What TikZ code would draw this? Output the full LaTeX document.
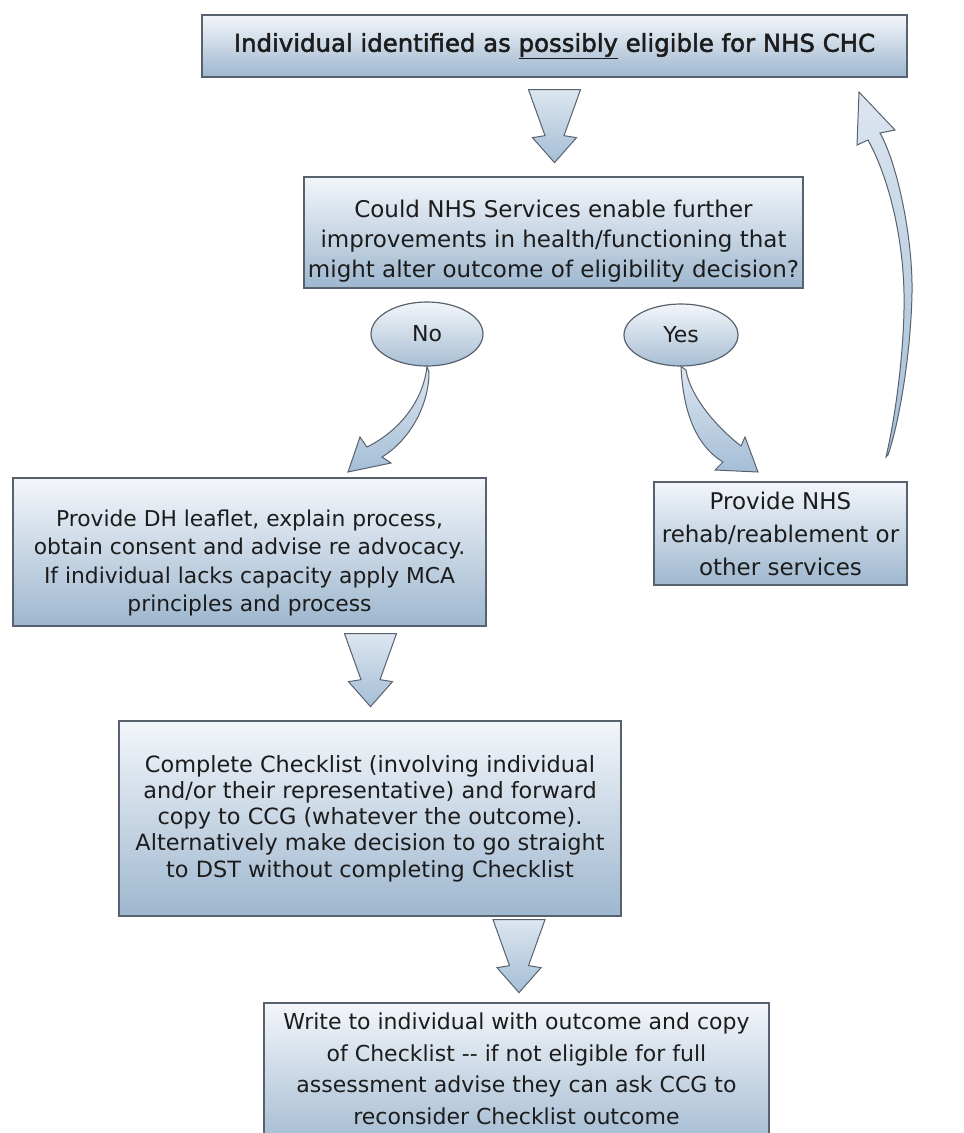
\documentclass[tikz,border=0pt]{standalone}
\usepackage{fontspec}
\setmainfont{DejaVu Sans}
\newfontfamily\topfont{DejaVu Sans}[FakeBold=2]
\usetikzlibrary{shapes.geometric,calc}
\definecolor{boxtop}{RGB}{243,246,250}
\definecolor{boxbot}{RGB}{158,183,207}
\definecolor{edge}{RGB}{88,98,110}
\definecolor{arrtop}{RGB}{220,230,240}
\definecolor{arrbot}{RGB}{165,190,214}
\definecolor{ink}{RGB}{28,28,28}
\begin{document}
\begin{tikzpicture}[x=1pt,y=-1pt,
  box/.style={draw=edge, line width=1.3pt, top color=boxtop, bottom color=boxbot, inner sep=0pt, align=center, text=ink},
  txt/.style={inner sep=0pt, align=center, text=ink},
  oval/.style={ellipse, draw=edge, line width=1.2pt, top color=boxtop, bottom color=boxbot!90!white, inner sep=0pt, text=ink},
  blk/.style={draw=edge, line width=1pt, top color=arrtop, bottom color=arrbot, line join=miter},
  pics/blockdown/.style={code={
    \path[blk] (-26,0) -- (26,0) -- (9.5,46) -- (22,48) -- (0,73) -- (-22,48) -- (-9.5,46) -- cycle;
  }}
]
\useasboundingbox (0,0) rectangle (964,1133);
\clip (0,0) rectangle (964,1133);
\fill[white] (0,0) rectangle (964,1133);

\node[box, minimum width=705pt, minimum height=62pt, font=\topfont\fontsize{24.4}{28}\selectfont] (top) at (554.5,46)
  {Individual identified as \underline{possibly} eligible for NHS CHC};

\node[box, minimum width=499pt, minimum height=111pt] (q) at (553.5,232.5) {};
\node[txt, font=\fontsize{23}{30}\selectfont] (qt) at ($(q.center)+(0,9)$)
  {Could NHS Services enable further\\improvements in health/functioning that\\might alter outcome of eligibility decision?};

\node[oval, minimum width=112pt, minimum height=64pt, font=\fontsize{22}{26}\selectfont] (no) at (427,334) {No};
\node[oval, minimum width=114pt, minimum height=62pt, font=\fontsize{22}{26}\selectfont] (yes) at (681,335) {Yes};

\node[box, minimum width=473pt, minimum height=148pt] (dh) at (249.5,552) {};
\node[txt, font=\fontsize{21.8}{28.5}\selectfont] (dht) at ($(dh.center)+(0,11)$)
  {Provide DH leaflet, explain process,\\obtain consent and advise re advocacy.\\If individual lacks capacity apply MCA\\principles and process};

\node[box, minimum width=253pt, minimum height=103pt, font=\fontsize{23}{33}\selectfont] (rehab) at (780.5,533.5)
  {Provide NHS\\rehab/reablement or\\other services};

\node[box, minimum width=502pt, minimum height=195pt, font=\fontsize{22.4}{26.3}\selectfont] (chk) at (370,818.5)
  {Complete Checklist (involving individual\\and/or their representative) and forward\\copy to CCG (whatever the outcome).\\Alternatively make decision to go straight\\to DST without completing Checklist};

\node[box, minimum width=505pt, minimum height=152pt] (wr) at (516.5,1079) {};
\node[txt, font=\fontsize{22}{31.5}\selectfont] (wrt) at ($(wr.center)+(0,-10)$)
  {Write to individual with outcome and copy\\of Checklist {-}{-} if not eligible for full\\assessment advise they can ask CCG to\\reconsider Checklist outcome};

% straight block arrows
\pic at ($(top.south)+(0,12)$) {blockdown};
\pic at ($(dh.south)+(121,7)$) {blockdown};
\pic at ($(chk.south)+(149,3)$) {blockdown};

% No -> DH
\path[blk] (no.south) .. controls (424,395) and (405,428) .. (367,447) -- (360,437) -- (348,472) -- (391,463) -- (382,457)
  .. controls (410,440) and (429,405) .. (429,372) -- cycle;
% Yes -> rehab
\path[blk] (yes.south) .. controls (683,410) and (695,445) .. (723,462) -- (715,470) -- (758,472) -- (745,437) -- (741,446)
  .. controls (714,425) and (690,395) .. (686,370) -- cycle;
% rehab -> top (loop back)
\coordinate (tail) at (886,457);
\path[blk] (tail) .. controls (897,410) and (905,340) .. (904,293) .. controls (903,240) and (890,180) .. (868,140)
  -- (857,145) -- (859,92) -- (895,130) -- (880,133)
  .. controls (898,165) and (913,240) .. (912,293) .. controls (911,350) and (900,420) .. (888,455) -- cycle;
\end{tikzpicture}
\end{document}
